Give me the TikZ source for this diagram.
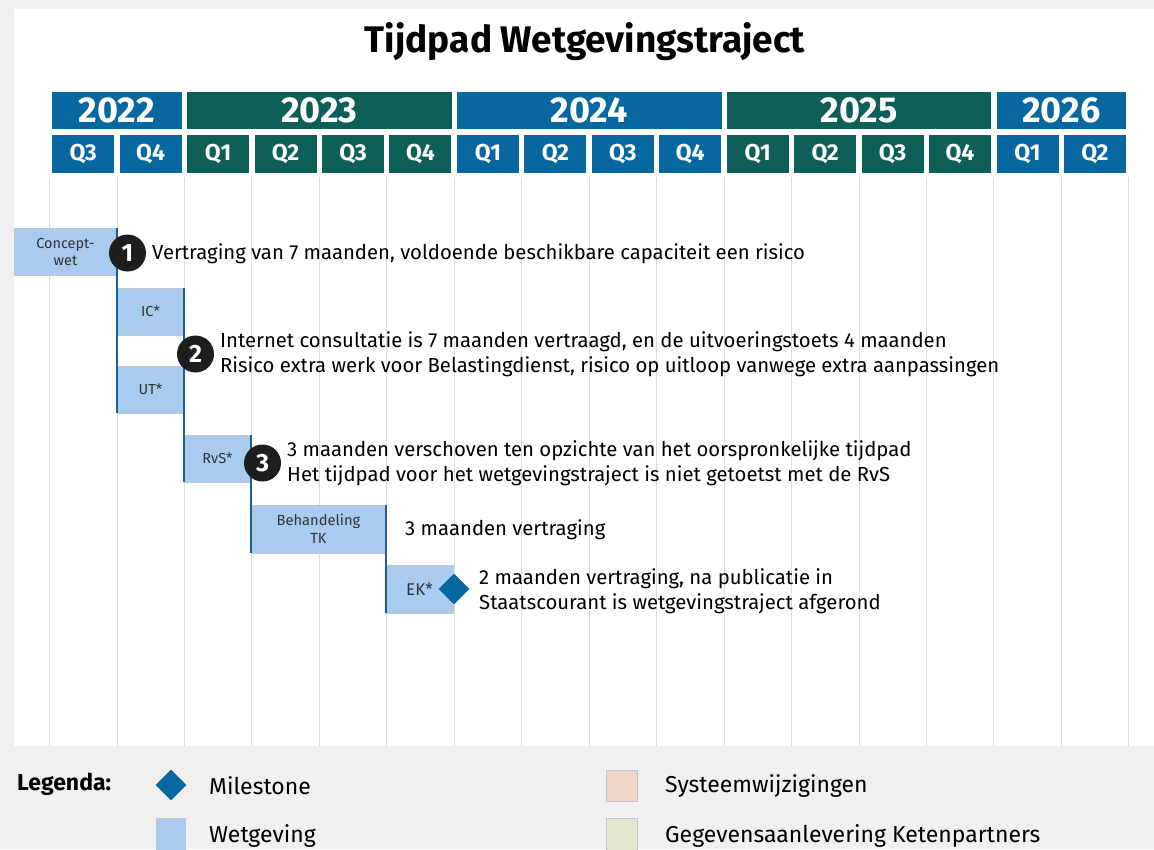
\documentclass[tikz,border=0pt]{standalone}
\usepackage{fontspec}
\setmainfont{Fira Sans}
\usetikzlibrary{shapes.geometric}
\definecolor{bg}{HTML}{F0F0F0}
\definecolor{yblue}{HTML}{07689F}
\definecolor{ygreen}{HTML}{0D5F57}
\definecolor{barfill}{HTML}{A9CBF0}
\definecolor{barline}{HTML}{C3C6CA}
\definecolor{depline}{HTML}{1F5F8F}
\definecolor{gridc}{HTML}{DCDCDC}
\definecolor{circ}{HTML}{1E1E1E}
\definecolor{peach}{HTML}{EFD5C6}
\definecolor{mint}{HTML}{E3E5CF}
\definecolor{bartext}{HTML}{333333}
\begin{document}
\begin{tikzpicture}[x=1pt,y=-1pt,
  yearbox/.style={anchor=north west,inner sep=0pt,outer sep=0pt,minimum height=37pt,text=white,font=\fontsize{36}{38}\selectfont\bfseries},
  qbox/.style={anchor=north west,inner sep=0pt,outer sep=0pt,minimum width=62pt,minimum height=38pt,text=white,font=\fontsize{23}{25}\selectfont\bfseries},
  bar/.style={anchor=north west,inner sep=0pt,outer sep=0pt,fill=barfill,draw=barline,line width=1pt,text=bartext,align=center,font=\fontsize{14.5}{17}\selectfont},
  dep/.style={draw=depline,line width=2pt},
  numc/.style={circle,fill=circ,text=white,minimum size=37pt,inner sep=0pt,font=\fontsize{25}{27}\selectfont\bfseries},
  note/.style={anchor=west,inner sep=0pt,align=left,text=black,font=\fontsize{20.3}{24.8}\selectfont},
  gridline/.style={draw=gridc,line width=1pt},
  ms/.style={diamond,aspect=1,fill=yblue,minimum size=31pt,inner sep=0pt},
  legtext/.style={anchor=west,inner sep=0pt,font=\fontsize{23}{26}\selectfont},
  legsq/.style={anchor=north west,inner sep=0pt,outer sep=0pt,draw=barline,line width=1pt}
]
\useasboundingbox (0,0) rectangle (1154,849);
\fill[bg] (0,0) rectangle (1154,849);
\fill[white] (14,9) rectangle (1154,746);

\node[font=\fontsize{37}{40}\selectfont\bfseries] (title) at (585,42) {Tijdpad Wetgevingstraject};

% grid lines
\foreach \k in {0,...,16}{
  \pgfmathsetmacro{\gx}{49.6+67.45*\k}
  \draw[gridline] (\gx,177) -- (\gx,746);
}

% years
\node[yearbox,fill=yblue,minimum width=129.4pt] (y22) at (52.2,92) {2022};
\node[yearbox,fill=ygreen,minimum width=264.7pt] (y23) at (187.1,92) {2023};
\node[yearbox,fill=yblue,minimum width=264.7pt] (y24) at (456.9,92) {2024};
\node[yearbox,fill=ygreen,minimum width=264.7pt] (y25) at (726.7,92) {2025};
\node[yearbox,fill=yblue,minimum width=129.4pt] (y26) at (996.5,92) {2026};

% quarters
\foreach \k/\q/\c in {0/Q3/yblue,1/Q4/yblue,2/Q1/ygreen,3/Q2/ygreen,4/Q3/ygreen,5/Q4/ygreen,6/Q1/yblue,7/Q2/yblue,8/Q3/yblue,9/Q4/yblue,10/Q1/ygreen,11/Q2/ygreen,12/Q3/ygreen,13/Q4/ygreen,14/Q1/yblue,15/Q2/yblue}{
  \pgfmathsetmacro{\qx}{49.6+67.45*\k+2.6}
  \node[qbox,fill=\c] (q\k) at (\qx,135) {\q};
}

% bars
\node[bar,minimum width=103pt,minimum height=47pt] (cw) at (14,228) {Concept-\\wet};
\node[bar,minimum width=67pt,minimum height=47pt] (ic) at (117,288) {IC*};
\node[bar,minimum width=67pt,minimum height=47pt] (ut) at (117,366) {UT*};
\node[bar,minimum width=67pt,minimum height=47pt] (rvs) at (184,435) {RvS*};
\node[bar,minimum width=135pt,minimum height=48pt,font=\fontsize{14.7}{18}\selectfont] (tk) at (251,505) {Behandeling\\TK};
\node[bar,minimum width=67pt,minimum height=48pt,font=\fontsize{17}{19}\selectfont] (ek) at (386,565) {EK*};

\draw[dep] (cw.north east) -- (ut.south west);
\draw[dep] (ic.north east) -- (rvs.south west);
\draw[dep] (rvs.north east) -- (tk.south west);
\draw[dep] (tk.north east) -- (ek.south west);

\node[ms] (mst) at (454,589) {};

% numbered circles
\node[numc] (n1) at (127.5,253) {1};
\node[numc] (n2) at (195.5,354) {2};
\node[numc] (n3) at (262.5,463) {3};

% notes
\node[note] (t1) at (152,254) {Vertraging van 7 maanden, voldoende beschikbare capaciteit een risico};
\node[note] (t2) at (220,354.5) {Internet consultatie is 7 maanden vertraagd, en de uitvoeringstoets 4 maanden\\Risico extra werk voor Belastingdienst, risico op uitloop vanwege extra aanpassingen};
\node[note] (t3) at (287,463.5) {3 maanden verschoven ten opzichte van het oorspronkelijke tijdpad\\Het tijdpad voor het wetgevingstraject is niet getoetst met de RvS};
\node[note] (t4) at (405,530) {3 maanden vertraging};
\node[note] (t5) at (479,591) {2 maanden vertraging, na publicatie in\\Staatscourant is wetgevingstraject afgerond};

% legend
\node[legtext,font=\fontsize{23}{26}\selectfont\bfseries] (leg) at (17,784) {Legenda:};
\node[ms] (lms) at (171,785) {};
\node[legtext] (lmst) at (209,786) {Milestone};
\node[legsq,fill=barfill,minimum width=29pt,minimum height=36pt] (lwg) at (156,818) {};
\node[legtext] (lwgt) at (209,836) {Wetgeving};
\node[legsq,fill=peach,minimum width=31pt,minimum height=31pt] (lsys) at (606,770) {};
\node[legtext] (lsyst) at (665,786) {Systeemwijzigingen};
\node[legsq,fill=mint,minimum width=31pt,minimum height=36pt] (lgeg) at (606,818) {};
\node[legtext] (lgegt) at (665,836) {Gegevensaanlevering Ketenpartners};
\end{tikzpicture}
\end{document}
